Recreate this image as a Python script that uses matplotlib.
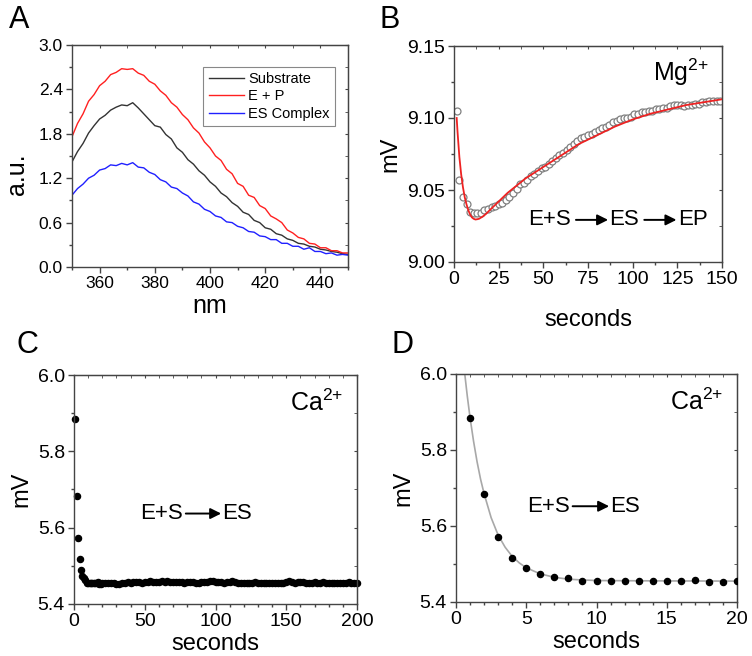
import matplotlib
matplotlib.use("Agg")
import matplotlib.pyplot as plt
import numpy as np
from matplotlib.ticker import FormatStrFormatter, MultipleLocator

plt.rcParams["font.family"] = ["Liberation Sans", "DejaVu Sans"]
plt.rcParams["mathtext.default"] = "regular"

W, H = 752, 656
AXC = "#444444"

# ---- panel A: absorbance spectra (every 2 nm) ----
wavelength = np.arange(350, 451, 2)
substrate = [1.42, 1.56, 1.67, 1.81, 1.91, 2.00, 2.05, 2.12, 2.16, 2.19, 2.18, 2.22, 2.15,
             2.07, 1.99, 1.91, 1.89, 1.79, 1.73, 1.61, 1.55, 1.45, 1.39, 1.30, 1.24, 1.15,
             1.09, 1.00, 0.95, 0.87, 0.82, 0.74, 0.71, 0.63, 0.60, 0.53, 0.51, 0.45, 0.43,
             0.38, 0.36, 0.32, 0.31, 0.28, 0.27, 0.24, 0.23, 0.21, 0.20, 0.18, 0.17]
e_plus_p = [1.76, 1.94, 2.07, 2.24, 2.33, 2.45, 2.51, 2.60, 2.63, 2.68, 2.67, 2.68, 2.62,
            2.59, 2.51, 2.47, 2.38, 2.32, 2.22, 2.16, 2.06, 1.99, 1.88, 1.81, 1.69, 1.61,
            1.50, 1.44, 1.32, 1.26, 1.13, 1.09, 0.97, 0.94, 0.83, 0.79, 0.69, 0.65, 0.60,
            0.50, 0.46, 0.40, 0.38, 0.32, 0.31, 0.26, 0.26, 0.22, 0.22, 0.19, 0.19]
es_complex = [0.97, 1.06, 1.12, 1.20, 1.24, 1.31, 1.33, 1.38, 1.37, 1.40, 1.38, 1.41, 1.35,
              1.34, 1.28, 1.25, 1.18, 1.15, 1.08, 1.06, 1.00, 0.96, 0.88, 0.85, 0.78, 0.75,
              0.69, 0.67, 0.61, 0.60, 0.55, 0.53, 0.48, 0.47, 0.42, 0.41, 0.37, 0.37, 0.32,
              0.32, 0.28, 0.28, 0.24, 0.26, 0.21, 0.21, 0.18, 0.19, 0.16, 0.17, 0.16]

# ---- panel B: Mg2+ trace (open circles) and fit ----
mg_time = [1.5, 3] + list(range(5, 150, 2))
mg_mv = [9.105, 9.057,
         9.045, 9.040, 9.035, 9.034, 9.034, 9.034, 9.036, 9.037, 9.038, 9.039,
         9.040, 9.041, 9.043, 9.045, 9.048, 9.051, 9.054, 9.055, 9.057, 9.060,
         9.061, 9.063, 9.065, 9.066, 9.068, 9.070, 9.072, 9.074, 9.076, 9.078,
         9.080, 9.082, 9.084, 9.086, 9.087, 9.088, 9.089, 9.090, 9.092, 9.093,
         9.094, 9.095, 9.097, 9.098, 9.099, 9.100, 9.100, 9.101, 9.103, 9.103,
         9.104, 9.104, 9.105, 9.105, 9.106, 9.106, 9.107, 9.107, 9.108, 9.109,
         9.109, 9.109, 9.108, 9.109, 9.109, 9.110, 9.110, 9.111, 9.111, 9.112,
         9.112, 9.112, 9.112]
mg_fit_time = [1.5, 2, 3, 4, 5, 6, 7, 8, 9, 10, 11, 12, 13, 14, 16, 18, 20, 25, 30, 35,
               40, 50, 60, 70, 80, 90, 100, 110, 120, 130, 140, 150]
mg_fit = [9.100, 9.090, 9.073, 9.061, 9.052, 9.045, 9.040, 9.036, 9.033, 9.031, 9.030,
          9.0295, 9.0297, 9.030, 9.0315, 9.0335, 9.036, 9.042, 9.048, 9.053, 9.058,
          9.066, 9.074, 9.082, 9.088, 9.094, 9.099, 9.103, 9.106, 9.109, 9.111, 9.113]

# ---- panels C/D: Ca2+ trace ----
ca_time_early = list(range(1, 21))
ca_mv_early = [5.885, 5.684, 5.572, 5.517, 5.489, 5.474, 5.467, 5.462, 5.456, 5.456,
               5.455, 5.455, 5.455, 5.456, 5.456, 5.454, 5.457, 5.453, 5.453, 5.455]
ca_time_late = list(range(22, 201, 2))
ca_mv_late = [5.454, 5.455, 5.456, 5.454, 5.453, 5.452, 5.455, 5.456, 5.457, 5.456,
              5.457, 5.458, 5.457, 5.456, 5.457, 5.458, 5.459, 5.458, 5.457, 5.458,
              5.459, 5.458, 5.459, 5.458, 5.457, 5.458, 5.457, 5.458, 5.456, 5.457,
              5.458, 5.457, 5.456, 5.455, 5.457, 5.458, 5.457, 5.459, 5.460, 5.458,
              5.457, 5.458, 5.456, 5.458, 5.457, 5.459, 5.457, 5.456, 5.455, 5.454,
              5.455, 5.456, 5.455, 5.457, 5.456, 5.455, 5.456, 5.454, 5.455, 5.456,
              5.455, 5.454, 5.456, 5.455, 5.457, 5.459, 5.458, 5.456, 5.457, 5.458,
              5.457, 5.456, 5.455, 5.456, 5.457, 5.456, 5.455, 5.457, 5.455, 5.454,
              5.455, 5.456, 5.455, 5.454, 5.456, 5.455, 5.457, 5.456, 5.455, 5.456]
ca_fit_time = [0.6, 0.8, 1, 1.25, 1.5, 1.75, 2, 2.5, 3, 3.5, 4, 4.5, 5, 6, 7, 8, 9, 10,
               12, 15, 20]
ca_fit = [6.008, 5.943, 5.885, 5.823, 5.769, 5.723, 5.685, 5.622, 5.576, 5.544, 5.520,
          5.503, 5.490, 5.474, 5.465, 5.460, 5.458, 5.4565, 5.456, 5.4555, 5.455]


def box(left, top, right, bottom):
    return [left / W, 1 - bottom / H, (right - left) / W, (bottom - top) / H]


def frame(ax, xlim, ylim, xmaj, xmin, ymaj, ymin, yfmt, xfmt, size):
    ax.set_xlim(*xlim)
    ax.set_ylim(*ylim)
    for s in ax.spines.values():
        s.set_color(AXC)
        s.set_linewidth(1.0)
    ax.xaxis.set_major_locator(MultipleLocator(xmaj))
    ax.xaxis.set_minor_locator(MultipleLocator(xmin))
    ax.yaxis.set_major_locator(MultipleLocator(ymaj))
    ax.yaxis.set_minor_locator(MultipleLocator(ymin))
    ax.yaxis.set_major_formatter(FormatStrFormatter(yfmt))
    ax.xaxis.set_major_formatter(FormatStrFormatter(xfmt))
    ax.tick_params(which="both", direction="out", color=AXC, labelsize=size)
    ax.tick_params(which="major", length=4.5, width=1, pad=2)
    ax.tick_params(which="minor", length=2.5, width=1)
    top = ax.secondary_xaxis("top")
    top.xaxis.set_major_locator(MultipleLocator(xmaj))
    top.xaxis.set_minor_locator(MultipleLocator(xmin))
    top.tick_params(which="both", direction="in", color=AXC, labeltop=False, length=2.5)
    right = ax.secondary_yaxis("right")
    right.yaxis.set_major_locator(MultipleLocator(ymaj))
    right.yaxis.set_minor_locator(MultipleLocator(ymin))
    right.tick_params(which="both", direction="in", color=AXC, labelright=False, length=2.5)
    for sec in (top, right):
        for s in sec.spines.values():
            s.set_color(AXC)


def reaction(ax, y, pieces):
    # pieces: list of (kind, x0, x1) in axes fraction
    for kind, x0, x1 in pieces:
        if kind == "arrow":
            ax.annotate("", xy=(x1, y), xytext=(x0, y), xycoords="axes fraction",
                        arrowprops=dict(arrowstyle="-|>", color="black", lw=1.4,
                                        mutation_scale=16, shrinkA=0, shrinkB=0))
        else:
            ax.text((x0 + x1) / 2, y, kind, transform=ax.transAxes, fontsize=16,
                    ha="center", va="center")


fig = plt.figure(figsize=(W / 100, H / 100), dpi=100)

# A
axA = fig.add_axes(box(72, 45, 348, 267))
axA.plot(wavelength, substrate, color="#333333", lw=1.0, label="Substrate")
axA.plot(wavelength, e_plus_p, color="#ff2020", lw=1.0, label="E + P")
axA.plot(wavelength, es_complex, color="#2020ff", lw=1.0, label="ES Complex")
frame(axA, (350, 450), (0, 3.0), 20, 10, 0.6, 0.3, "%.1f", "%d", 12.5)
axA.set_xlabel("nm", fontsize=18, labelpad=2)
axA.set_ylabel("a.u.", fontsize=18)
axA.yaxis.set_label_coords(-0.155, 0.42)
leg = axA.legend(loc="upper left", bbox_to_anchor=(0.45, 0.935), fontsize=10.5,
                 fancybox=False, edgecolor="#888888", framealpha=1, handlelength=2.4,
                 handletextpad=0.3, borderpad=0.35, labelspacing=0.25)
leg.get_frame().set_linewidth(0.8)

# B
axB = fig.add_axes(box(454, 46, 722, 262))
axB.plot(mg_time, mg_mv, "o", ms=5, mfc="white", mec="#808080", mew=0.9, zorder=2)
axB.plot(mg_fit_time, mg_fit, color="#ee2222", lw=1.3, zorder=3)
frame(axB, (0, 150), (9.0, 9.15), 25, 12.5, 0.05, 0.025, "%.2f", "%d", 14)
axB.set_xlabel("seconds", fontsize=17, labelpad=15)
axB.set_ylabel("mV", fontsize=17, labelpad=4)
axB.text(0.95, 0.88, r"$Mg^{2{+}}$", transform=axB.transAxes, fontsize=18, ha="right", va="center")
reaction(axB, 0.195, [("E+S", 0.30, 0.41), ("arrow", 0.455, 0.575), ("ES", 0.58, 0.69),
                      ("arrow", 0.71, 0.83), ("EP", 0.835, 0.945)])

# C
axC = fig.add_axes(box(74, 375, 357, 604))
axC.plot(ca_time_early + ca_time_late, ca_mv_early + ca_mv_late, "o", ms=4.4,
         color="black", clip_on=False)
frame(axC, (0, 200), (5.4, 6.0), 50, 10, 0.2, 0.1, "%.1f", "%d", 14)
axC.set_xlabel("seconds", fontsize=17, labelpad=2)
axC.set_ylabel("mV", fontsize=17, labelpad=4)
axC.text(0.95, 0.88, r"$Ca^{2{+}}$", transform=axC.transAxes, fontsize=18, ha="right", va="center")
reaction(axC, 0.395, [("E+S", 0.23, 0.39), ("arrow", 0.395, 0.52), ("ES", 0.52, 0.63)])

# D
axD = fig.add_axes(box(456, 374, 737, 602))
axD.plot(ca_fit_time, ca_fit, color="#a8a8a8", lw=1.2, zorder=2)
axD.plot(ca_time_early, ca_mv_early, "o", ms=4.4, color="black", zorder=3)
frame(axD, (0, 20), (5.4, 6.0), 5, 1, 0.2, 0.1, "%.1f", "%d", 14)
axD.set_xlabel("seconds", fontsize=17, labelpad=2)
axD.set_ylabel("mV", fontsize=17, labelpad=4)
axD.text(0.95, 0.88, r"$Ca^{2{+}}$", transform=axD.transAxes, fontsize=18, ha="right", va="center")
reaction(axD, 0.42, [("E+S", 0.25, 0.41), ("arrow", 0.415, 0.545), ("ES", 0.545, 0.66)])

for letter, (lx, ly) in {"A": (9, 28), "B": (379, 28), "C": (17, 353), "D": (391, 353)}.items():
    fig.text(lx / W, 1 - ly / H, letter, fontsize=22, ha="left", va="baseline")

fig.savefig("out.png", dpi=100)
